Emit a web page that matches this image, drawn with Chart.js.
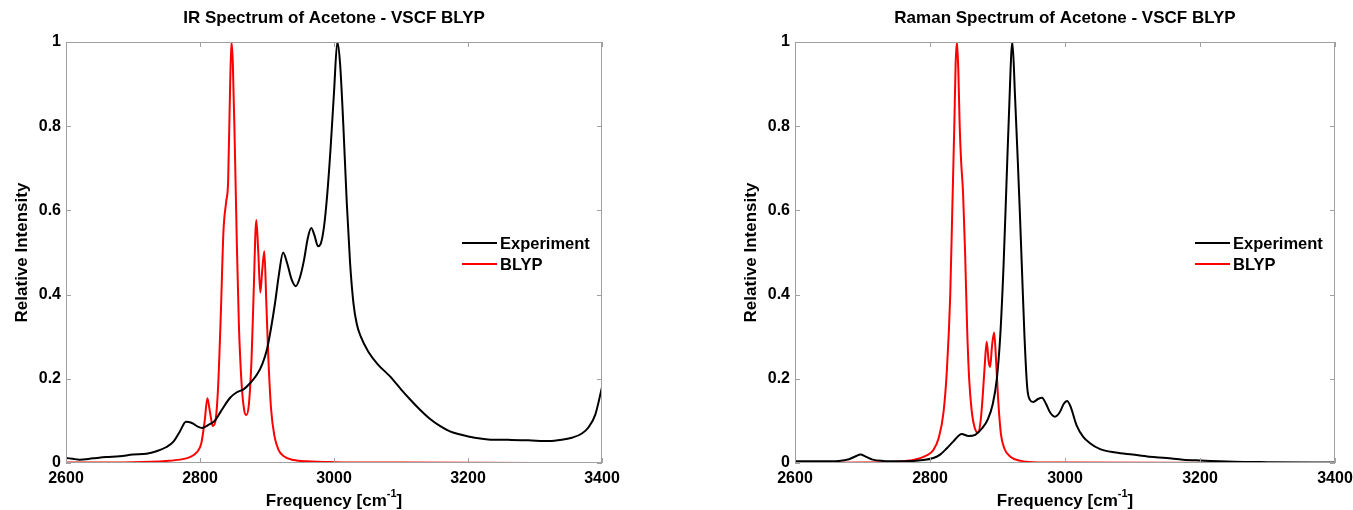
<!DOCTYPE html>
<html>
<head>
<meta charset="utf-8">
<script src="https://cdn.jsdelivr.net/npm/chart.js@4/dist/chart.umd.min.js"></script>
<style>
  html, body { margin: 0; padding: 0; background: #fff; overflow: hidden; }
  #wrap { position: relative; width: 1353px; height: 510px; overflow: hidden; }
  canvas { position: absolute; top: 0; }
</style>
</head>
<body>
<div id="wrap">
  <canvas id="irChart" width="676" height="510" style="left:0"></canvas>
  <canvas id="ramanChart" width="700" height="510" style="left:676px"></canvas>
</div>
<script>
// IR - experiment
const irExpFreq = [2600, 2610, 2620, 2640, 2660, 2680, 2700, 2720, 2735, 2750, 2760, 2770, 2779, 2788, 2796, 2803, 2812, 2822, 2832, 2845, 2855, 2865, 2875, 2885, 2893, 2900, 2906, 2912, 2918, 2924, 2930, 2937, 2943, 2949, 2955, 2961, 2966, 2971, 2976, 2980, 2985, 2990, 2995, 3000, 3005, 3009, 3014, 3019, 3024, 3029, 3034, 3040, 3051, 3065, 3084, 3100, 3113, 3128, 3143, 3158, 3173, 3190, 3210, 3230, 3260, 3290, 3320, 3340, 3355, 3370, 3380, 3390, 3400];
const irExp = [0.012, 0.010, 0.008, 0.011, 0.014, 0.016, 0.020, 0.022, 0.028, 0.038, 0.05, 0.075, 0.098, 0.095, 0.087, 0.083, 0.09, 0.10, 0.125, 0.155, 0.168, 0.175, 0.19, 0.21, 0.235, 0.27, 0.32, 0.38, 0.45, 0.50, 0.475, 0.435, 0.42, 0.44, 0.48, 0.535, 0.558, 0.54, 0.515, 0.52, 0.56, 0.64, 0.75, 0.88, 1.0, 0.95, 0.8, 0.62, 0.475, 0.38, 0.33, 0.3, 0.265, 0.235, 0.205, 0.175, 0.152, 0.127, 0.105, 0.088, 0.075, 0.067, 0.06, 0.056, 0.055, 0.054, 0.052, 0.055, 0.06, 0.07, 0.085, 0.115, 0.18];

// IR - VSCF BLYP
const irCalcFreq = [2600, 2700, 2750, 2770, 2785, 2795, 2802, 2807, 2811, 2815, 2819, 2823, 2827, 2831, 2835, 2839, 2842, 2845, 2847, 2849, 2852, 2855, 2858, 2862, 2866, 2869, 2873, 2877, 2880, 2884, 2887, 2890, 2893, 2896, 2899, 2902, 2906, 2911, 2917, 2925, 2940, 2960, 3000, 3100, 3400];
const irCalc = [0.001, 0.002, 0.005, 0.008, 0.014, 0.025, 0.047, 0.10, 0.154, 0.12, 0.088, 0.1, 0.18, 0.35, 0.55, 0.62, 0.67, 0.9, 1.0, 0.95, 0.75, 0.52, 0.33, 0.19, 0.125, 0.114, 0.14, 0.25, 0.4, 0.577, 0.5, 0.405, 0.46, 0.503, 0.38, 0.25, 0.13, 0.065, 0.032, 0.016, 0.007, 0.004, 0.002, 0.001, 0];

// Raman - experiment
const ramanExpFreq = [2600, 2640, 2665, 2680, 2690, 2697, 2705, 2715, 2730, 2760, 2790, 2805, 2815, 2825, 2835, 2847, 2857, 2867, 2877, 2886, 2893, 2899, 2904, 2909, 2913, 2917, 2922, 2926, 2930, 2933, 2936, 2940, 2944, 2948, 2953, 2960, 2966, 2972, 2978, 2985, 2992, 2998, 3003, 3008, 3017, 3027, 3037, 3052, 3075, 3100, 3125, 3150, 3175, 3200, 3250, 3300, 3400];
const ramanExp = [0.004, 0.004, 0.005, 0.009, 0.016, 0.02, 0.015, 0.008, 0.005, 0.004, 0.007, 0.012, 0.02, 0.035, 0.052, 0.069, 0.064, 0.067, 0.082, 0.105, 0.14, 0.2, 0.3, 0.47, 0.65, 0.83, 1.0, 0.87, 0.72, 0.6, 0.47, 0.3, 0.18, 0.15, 0.145, 0.152, 0.155, 0.14, 0.12, 0.11, 0.12, 0.14, 0.147, 0.135, 0.09, 0.062, 0.047, 0.033, 0.025, 0.02, 0.015, 0.012, 0.008, 0.006, 0.003, 0.002, 0.001];

// Raman - VSCF BLYP
const ramanCalcFreq = [2600, 2700, 2750, 2775, 2795, 2805, 2813, 2820, 2825, 2830, 2833, 2836, 2838, 2840, 2842, 2844, 2846, 2849, 2852, 2855, 2858, 2862, 2866, 2871, 2875, 2878, 2881, 2884, 2887, 2889, 2892, 2895, 2898, 2901, 2905, 2910, 2919, 2935, 2953, 3000, 3400];
const ramanCalc = [0, 0.001, 0.003, 0.007, 0.018, 0.031, 0.06, 0.12, 0.22, 0.4, 0.6, 0.8, 0.95, 1.0, 0.93, 0.8, 0.72, 0.64, 0.5, 0.32, 0.2, 0.12, 0.085, 0.072, 0.1, 0.157, 0.23, 0.288, 0.24, 0.228, 0.28, 0.31, 0.24, 0.15, 0.07, 0.035, 0.015, 0.005, 0.002, 0.001, 0];

const xTicks = [2600, 2800, 3000, 3200, 3400];
const yTicks = [0, 0.2, 0.4, 0.6, 0.8, 1];
const seriesNames = ['Experiment', 'BLYP'];

const FONT = "'Liberation Sans', Arial, Helvetica, sans-serif";
const BOX = '#a0a0a0';

const toPoints = (xs, ys) => xs.map((x, i) => ({ x: x, y: ys[i] }));

// matlab-ish box, inward ticks, titles and legend inside the axes
const matlabAxes = {
  id: 'matlabAxes',
  afterDraw(chart) {
    const { ctx, chartArea: a, scales } = chart;
    const t = 5;
    const cx = (a.left + a.right) / 2;
    ctx.save();
    ctx.strokeStyle = BOX;
    ctx.lineWidth = 1;
    ctx.strokeRect(a.left + 0.5, a.top + 0.5, a.right - a.left - 1, a.bottom - a.top - 1);
    ctx.beginPath();
    xTicks.forEach((v) => {
      const x = Math.round(scales.x.getPixelForValue(v)) + 0.5;
      ctx.moveTo(x, a.bottom); ctx.lineTo(x, a.bottom - t);
      ctx.moveTo(x, a.top); ctx.lineTo(x, a.top + t);
    });
    yTicks.forEach((v) => {
      const y = Math.round(scales.y.getPixelForValue(v)) + 0.5;
      ctx.moveTo(a.left, y); ctx.lineTo(a.left + t, y);
      ctx.moveTo(a.right, y); ctx.lineTo(a.right - t, y);
    });
    ctx.stroke();

    ctx.fillStyle = '#000';
    ctx.textAlign = 'center';
    ctx.textBaseline = 'middle';

    // chart title
    ctx.font = 'bold 17px ' + FONT;
    ctx.fillText(chart.options.plugins.matlabAxes.title, cx, 18);

    // y title
    ctx.save();
    ctx.translate(a.left - 44, (a.top + a.bottom) / 2);
    ctx.rotate(-Math.PI / 2);
    ctx.fillText('Relative Intensity', 0, 0);
    ctx.restore();

    // x title with superscript
    const main = 'Frequency [cm';
    const sup = '-1';
    const end = ']';
    ctx.font = 'bold 17px ' + FONT;
    const w1 = ctx.measureText(main).width;
    const w3 = ctx.measureText(end).width;
    ctx.font = 'bold 11px ' + FONT;
    const w2 = ctx.measureText(sup).width;
    const x0 = cx - (w1 + w2 + w3) / 2;
    const yb = a.bottom + 38;
    ctx.textAlign = 'left';
    ctx.font = 'bold 17px ' + FONT;
    ctx.fillText(main, x0, yb);
    ctx.font = 'bold 11px ' + FONT;
    ctx.fillText(sup, x0 + w1, yb - 7);
    ctx.font = 'bold 17px ' + FONT;
    ctx.fillText(end, x0 + w1 + w2, yb);

    // legend
    chart.data.datasets.forEach((ds, i) => {
      const ly = 243 + i * 21;
      const lx = a.right - 140;
      ctx.strokeStyle = ds.borderColor;
      ctx.lineWidth = 2;
      ctx.beginPath();
      ctx.moveTo(lx, ly); ctx.lineTo(lx + 35, ly);
      ctx.stroke();
      ctx.fillStyle = '#000';
      ctx.font = 'bold 16.5px ' + FONT;
      ctx.textAlign = 'left';
      ctx.fillText(ds.label, lx + 38, ly + 1);
    });
    ctx.restore();
  },
};

function makeChart(id, title, expF, expV, calcF, calcV, padLeft, padRight) {
  return new Chart(document.getElementById(id), {
    type: 'line',
    data: {
      datasets: [
        {
          label: seriesNames[0],
          data: toPoints(expF, expV),
          borderColor: '#000000',
          borderWidth: 2,
          pointRadius: 0,
          cubicInterpolationMode: 'monotone',
        },
        {
          label: seriesNames[1],
          data: toPoints(calcF, calcV),
          borderColor: '#ff0000',
          borderWidth: 2,
          pointRadius: 0,
          cubicInterpolationMode: 'monotone',
        },
      ],
    },
    options: {
      responsive: false,
      animation: false,
      layout: { padding: { left: padLeft, right: padRight, top: 42, bottom: 0 } },
      plugins: {
        legend: { display: false },
        tooltip: { enabled: false },
        title: { display: false },
        matlabAxes: { title: title },
      },
      scales: {
        x: {
          type: 'linear',
          min: 2600,
          max: 3400,
          afterBuildTicks: (s) => { s.ticks = xTicks.map((v) => ({ value: v })); },
          afterFit: (s) => { s.height = 47; },
          grid: { display: false, drawTicks: false },
          border: { display: false },
          ticks: {
            color: '#000',
            padding: 6,
            maxRotation: 0,
            font: { family: FONT, size: 16, weight: 'bold' },
            callback: (v) => String(v),
          },
        },
        y: {
          min: 0,
          max: 1,
          afterBuildTicks: (s) => { s.ticks = yTicks.map((v) => ({ value: v })); },
          afterFit: (s) => { s.width = 66; },
          grid: { display: false, drawTicks: false },
          border: { display: false },
          ticks: {
            color: '#000',
            padding: 5,
            font: { family: FONT, size: 16, weight: 'bold' },
            callback: (v) => String(Math.round(v * 10) / 10),
          },
        },
      },
    },
    plugins: [matlabAxes],
  });
}

makeChart('irChart', 'IR Spectrum of Acetone - VSCF BLYP', irExpFreq, irExp, irCalcFreq, irCalc, 0, 74);
makeChart('ramanChart', 'Raman Spectrum of Acetone - VSCF BLYP', ramanExpFreq, ramanExp, ramanCalcFreq, ramanCalc, 53, 41);
</script>
</body>
</html>
